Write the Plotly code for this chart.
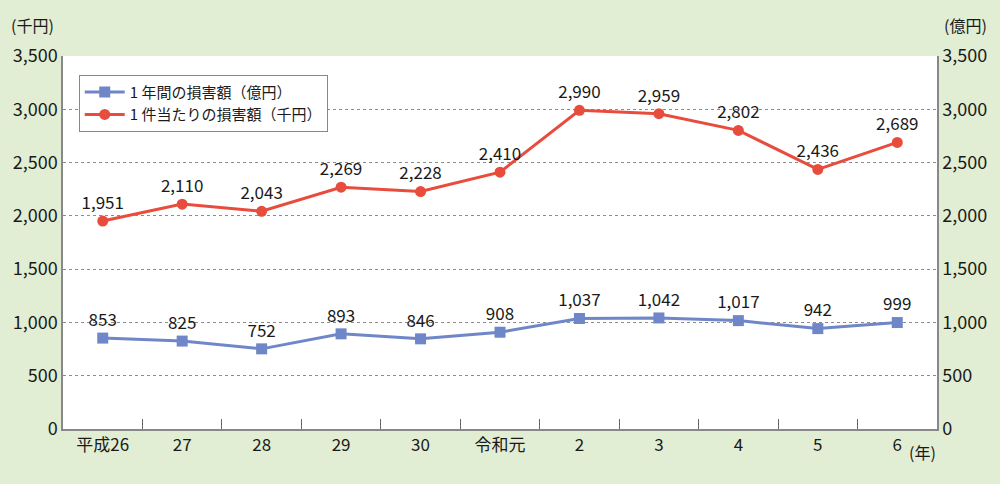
import plotly.graph_objects as go

years = ['平成26', '27', '28', '29', '30', '令和元', '2', '3', '4', '5', '6']
total_oku = [853, 825, 752, 893, 846, 908, 1037, 1042, 1017, 942, 999]
per_case_sen = [1951, 2110, 2043, 2269, 2228, 2410, 2990, 2959, 2802, 2436, 2689]

blue = '#6f86c8'
red = '#e84c3d'
font_name = 'Noto Sans CJK JP'
ink = '#1a1a1a'

fig = go.Figure()

fig.add_trace(go.Scatter(
    x=years, y=total_oku, yaxis='y2', name='1 年間の損害額（億円）',
    mode='lines+markers+text',
    line=dict(color=blue, width=3),
    marker=dict(symbol='square', size=11, color=blue),
    text=[f'{v:,}' for v in total_oku], textposition='top center',
    textfont=dict(size=17, color=ink),
))
fig.add_trace(go.Scatter(
    x=years, y=per_case_sen, name='1 件当たりの損害額（千円）',
    mode='lines+markers+text',
    line=dict(color=red, width=3),
    marker=dict(symbol='circle', size=11, color=red),
    text=[f'{v:,}' for v in per_case_sen], textposition='top center',
    textfont=dict(size=17, color=ink),
))

fig.update_layout(
    width=1000, height=484,
    margin=dict(l=63, r=63, t=56, b=55),
    paper_bgcolor='#e2eed3',
    plot_bgcolor='white',
    font=dict(family=font_name, size=17, color=ink),
    showlegend=True,
    legend=dict(
        x=0.018, y=0.95, xanchor='left', yanchor='top',
        bgcolor='white', bordercolor='#888888', borderwidth=1,
        font=dict(size=15, color=ink),
        itemwidth=40, tracegroupgap=2,
        traceorder='normal',
    ),
    xaxis=dict(
        type='category', automargin=False, range=[-0.5, len(years) - 0.5],
        showline=True, linecolor='#888888', linewidth=1.5,
        ticks='inside', tickson='boundaries', ticklen=10, tickcolor='#666666',
        showgrid=False,
        tickfont=dict(size=17),
    ),
    yaxis=dict(
        range=[0, 3500], dtick=500, tickformat=',', automargin=False,
        showline=True, linecolor='#888888', linewidth=1.5,
        showgrid=True, gridcolor='#8c8c8c', griddash='dot', gridwidth=1,
        zeroline=False, ticks='', tickfont=dict(size=18),
    ),
    yaxis2=dict(
        range=[0, 3500], dtick=500, tickformat=',', automargin=False,
        overlaying='y', side='right',
        showline=True, linecolor='#888888', linewidth=1.5,
        showgrid=False, zeroline=False, ticks='', tickfont=dict(size=18),
    ),
)

fig.add_annotation(text='(千円)', xref='paper', yref='paper', x=-0.035, y=1.045,
                   xanchor='center', yanchor='bottom', showarrow=False, font=dict(size=16))
fig.add_annotation(text='(億円)', xref='paper', yref='paper', x=1.033, y=1.045,
                   xanchor='center', yanchor='bottom', showarrow=False, font=dict(size=16))
fig.add_annotation(text='(年)', xref='paper', yref='paper', x=0.983, y=-0.025,
                   xanchor='center', yanchor='top', showarrow=False, font=dict(size=16))

fig.write_html('out.html', config={'displayModeBar': False},
               post_script="document.body.style.margin='0';")
